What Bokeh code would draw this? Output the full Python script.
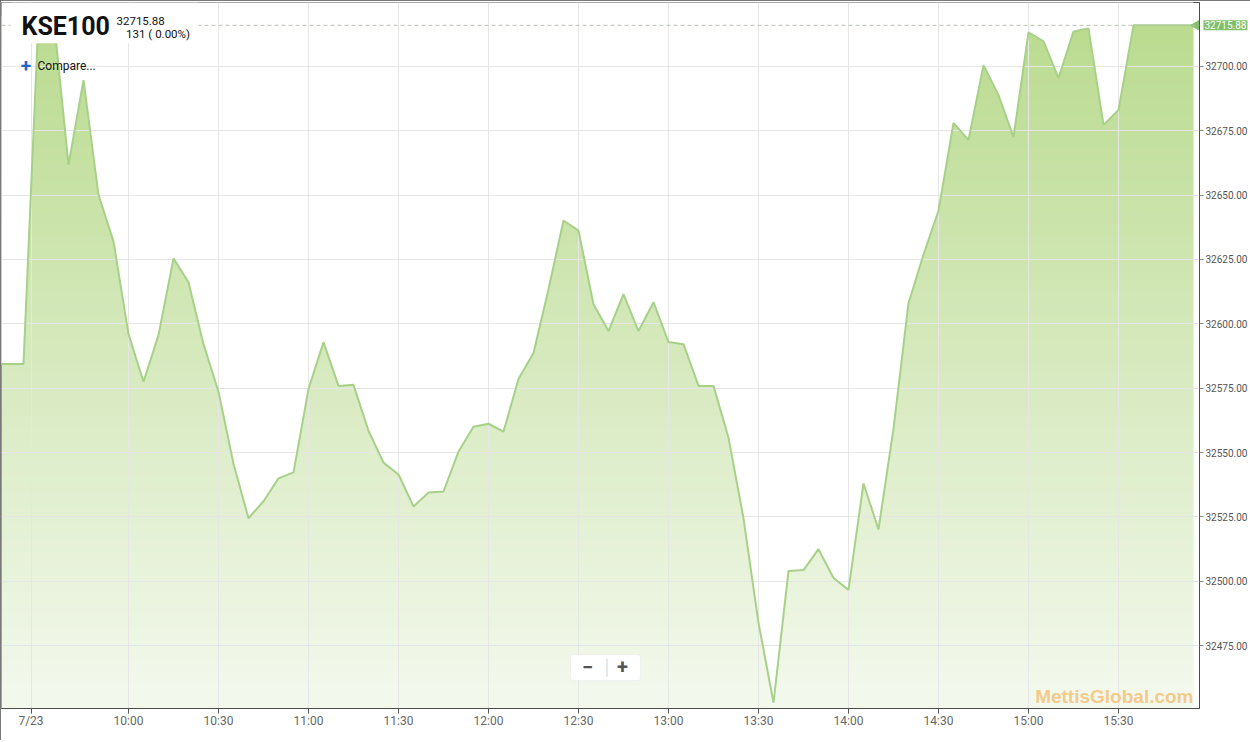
import numpy as np
from bokeh.plotting import figure
from bokeh.models import (Range1d, FixedTicker, NumeralTickFormatter, Span, Label,
                          BoxAnnotation)
from bokeh.embed import file_html
from bokeh.resources import INLINE

# ---------------- data ----------------
symbol = "KSE100"
last_price = 32715.88
change_text = "131 ( 0.00%)"
watermark = "MettisGlobal.com"

times = ["09:15", "09:25", "09:30", "09:35", "09:40", "09:45", "09:50", "09:55",
         "10:00", "10:05", "10:10", "10:15", "10:20", "10:25", "10:30", "10:35",
         "10:40", "10:45", "10:50", "10:55", "11:00", "11:05", "11:10", "11:15",
         "11:20", "11:25", "11:30", "11:35", "11:40", "11:45", "11:50", "11:55",
         "12:00", "12:05", "12:10", "12:15", "12:20", "12:25", "12:30", "12:35",
         "12:40", "12:45", "12:50", "12:55", "13:00", "13:05", "13:10", "13:15",
         "13:20", "13:25", "13:30", "13:35", "13:40", "13:45", "13:50", "13:55",
         "14:00", "14:05", "14:10", "14:15", "14:20", "14:25", "14:30", "14:35",
         "14:40", "14:45", "14:50", "14:55", "15:00", "15:05", "15:10", "15:15",
         "15:20", "15:25", "15:30", "15:35", "15:40", "15:45", "15:50", "15:55"]
values = [32584.4, 32584.4, 32719.0, 32719.5, 32661.7, 32694.6, 32650.1, 32632.0,
          32596.0, 32577.5, 32595.6, 32625.4, 32616.1, 32592.1, 32573.6, 32545.7,
          32524.5, 32531.1, 32540.0, 32542.3, 32574.7, 32592.9, 32575.9, 32576.3,
          32558.5, 32546.1, 32541.5, 32529.1, 32534.5, 32534.9, 32550.4, 32560.0,
          32561.2, 32558.1, 32578.6, 32588.7, 32613.4, 32640.1, 32636.2, 32607.6,
          32597.2, 32611.5, 32597.2, 32608.4, 32592.9, 32592.1, 32575.9, 32575.9,
          32555.8, 32524.5, 32483.9, 32452.9, 32504.0, 32504.4, 32512.5, 32501.3,
          32496.7, 32538.0, 32520.2, 32559.3, 32608.0, 32626.9, 32643.9, 32678.0,
          32671.4, 32700.4, 32688.8, 32672.5, 32713.1, 32709.7, 32695.4, 32713.5,
          32714.7, 32677.2, 32683.0, 32715.88, 32715.88, 32715.88, 32715.88, 32715.88]

x_tick_times = ["09:27:30", "10:00", "10:30", "11:00", "11:30", "12:00", "12:30",
                "13:00", "13:30", "14:00", "14:30", "15:00", "15:30"]
x_tick_labels = ["7/23", "10:00", "10:30", "11:00", "11:30", "12:00", "12:30",
                 "13:00", "13:30", "14:00", "14:30", "15:00", "15:30"]
y_ticks = [32475, 32500, 32525, 32550, 32575, 32600, 32625, 32650, 32675, 32700]


def to_min(t):
    parts = [int(v) for v in t.split(":")]
    s = parts[2] if len(parts) > 2 else 0
    return parts[0] * 60 + parts[1] + s / 60.0


xs = np.array([to_min(t) for t in times])
vals = np.array(values)
xt = [to_min(t) for t in x_tick_times]

# ---------------- layout ----------------
FW, FH = 1198, 706
REF_W, REF_H = 1198.0, 709.0


def fx(rx):
    return (rx - 1) * FW / REF_W


def fy(ry):
    return FH - (ry - 2) * FH / REF_H


x_range = Range1d(to_min("09:17:40"), to_min("15:57"))
y_range = Range1d(32450.65, 32724.74)

p = figure(frame_width=FW, frame_height=FH, output_backend="svg", toolbar_location=None,
           x_range=x_range, y_range=y_range, y_axis_location="right",
           min_border_left=1, min_border_top=2, min_border_right=51, min_border_bottom=30)
p.background_fill_color = "white"
p.border_fill_color = "white"
p.outline_line_color = "#4d4d4d"
p.outline_line_width = 1
p.styles = {"outline": "1px solid #4d4d4d", "outline-offset": "-1px"}

# gradient fill (image) masked above the curve
top_c = np.array([186, 219, 143])
bot_c = np.array([244, 249, 238])
n = 256
tt = np.linspace(0, 1, n)[:, None]  # 0 bottom -> 1 top
cols = (bot_c * (1 - tt) + top_c * tt).astype(np.uint8)
img = np.empty((n, 1), dtype=np.uint32)
view = img.view(dtype=np.uint8).reshape((n, 1, 4))
view[:, 0, 0] = cols[:, 0]
view[:, 0, 1] = cols[:, 1]
view[:, 0, 2] = cols[:, 2]
view[:, 0, 3] = 255
p.image_rgba(image=[img], x=xs[0], y=y_range.start, dw=xs[-1] - xs[0],
             dh=vals.max() - y_range.start, level="image")
p.varea(x=xs, y1=vals, y2=np.full(len(xs), y_range.end + 20), fill_color="white",
        fill_alpha=1.0, level="image")

p.line(xs, vals, line_color="#a7d188", line_width=2)

# price pointer
p.scatter([x_range.end], [last_price], marker="triangle", size=15, angle=np.pi / 2,
          fill_color="#82bf6c", line_color="#82bf6c")

# axes
p.xaxis.ticker = FixedTicker(ticks=xt)
p.xaxis.major_label_overrides = {t: l for t, l in zip(xt, x_tick_labels)}
p.xaxis.minor_tick_line_color = None
p.xaxis.major_tick_in = 0
p.xaxis.major_tick_out = 5
p.xaxis.major_tick_line_color = "#555555"
p.xaxis.axis_line_color = "#4d4d4d"
p.xaxis.major_label_text_font = "Roboto"
p.xaxis.major_label_text_font_size = "12px"
p.xaxis.major_label_text_color = "#666666"
p.xaxis.major_label_standoff = 0

p.yaxis.ticker = FixedTicker(ticks=y_ticks)
p.yaxis.formatter = NumeralTickFormatter(format="0.00")
p.yaxis.minor_tick_line_color = None
p.yaxis.major_tick_in = 0
p.yaxis.major_tick_out = 4
p.yaxis.major_tick_line_color = "#888888"
p.yaxis.axis_line_color = "#4d4d4d"
p.yaxis.major_label_text_font = "Roboto"
p.yaxis.major_label_text_font_size = "10px"
p.yaxis.major_label_text_color = "#555555"
p.yaxis.major_label_standoff = 2

p.xgrid.ticker = FixedTicker(ticks=xt)
p.ygrid.ticker = FixedTicker(ticks=y_ticks)
p.grid.grid_line_color = "#e6e6e6"
p.grid.grid_line_width = 1

# last price dashed line
p.add_layout(Span(location=last_price, dimension="width", line_color="#b9c4b0",
                  line_dash="4 3", line_width=1))

# title box
p.add_layout(BoxAnnotation(left=fx(10), right=fx(198), top=FH, bottom=fy(43),
                           left_units="screen", right_units="screen",
                           top_units="screen", bottom_units="screen",
                           fill_color="white", fill_alpha=1.0, line_alpha=0))
p.add_layout(Label(x=fx(21), y=fy(26.4), x_units="screen", y_units="screen", text=symbol,
                   text_font="Roboto", text_font_style="bold",
                   text_font_size="25px", text_color="#111111",
                   text_baseline="middle"))
p.add_layout(Label(x=fx(116), y=fy(20.2), x_units="screen", y_units="screen",
                   text=f"{last_price:.2f}", text_font="Roboto",
                   text_font_size="11.5px", text_color="#111111",
                   text_baseline="middle"))
p.add_layout(Label(x=fx(189.5), y=fy(33.5), x_units="screen", y_units="screen",
                   text=change_text, text_font="Roboto", text_align="right",
                   text_font_size="11.5px", text_color="#111111",
                   text_baseline="middle"))
p.add_layout(Label(x=fx(25.5), y=fy(65.5), x_units="screen", y_units="screen", text="+",
                   text_font="Roboto", text_font_style="bold", text_align="center",
                   text_font_size="19px", text_color="#2166c4", text_baseline="middle"))
p.add_layout(Label(x=fx(37), y=fy(65.5), x_units="screen", y_units="screen",
                   text="Compare...", text_font="Roboto",
                   text_font_size="12px", text_color="#111111",
                   text_baseline="middle"))

# price tag over the right axis (hosted in the below panel so it is not clipped)
p.add_layout(Label(x=x_range.end, y=last_price, x_units="data", y_units="data",
                   x_offset=4, text=f"{last_price:.2f}", text_font="Roboto",
                   text_font_size="10px", text_color="white", text_baseline="middle",
                   background_fill_color="#82bf6c", background_fill_alpha=1.0,
                   padding=1), "below")

# zoom buttons
p.add_layout(BoxAnnotation(left=fx(570), right=fx(640), top=fy(657), bottom=fy(683),
                           left_units="screen", right_units="screen",
                           top_units="screen", bottom_units="screen",
                           fill_color="white", fill_alpha=1.0, line_color="#dddddd",
                           line_width=1, border_radius=3))
p.add_layout(BoxAnnotation(left=fx(606), right=fx(607), top=fy(661), bottom=fy(679),
                           left_units="screen", right_units="screen",
                           top_units="screen", bottom_units="screen",
                           fill_color="#d0d0d0", fill_alpha=1.0, line_alpha=0))
p.add_layout(Label(x=fx(587), y=fy(669), x_units="screen", y_units="screen", text="\u2212",
                   text_font="Roboto", text_font_style="bold", text_align="center",
                   text_font_size="20px", text_color="#555555", text_baseline="middle"))
p.add_layout(Label(x=fx(622), y=fy(669), x_units="screen", y_units="screen", text="+",
                   text_font="Roboto", text_font_style="bold", text_align="center",
                   text_font_size="20px", text_color="#555555", text_baseline="middle"))

# watermark
p.add_layout(Label(x=fx(1193), y=fy(698.7), x_units="screen", y_units="screen",
                   text=watermark, text_font="Liberation Sans",
                   text_font_style="bold", text_align="right", text_font_size="19px",
                   text_color="#f5c47c", text_alpha=0.9, text_baseline="middle"))

open("out.html", "w").write(file_html(p, INLINE))
